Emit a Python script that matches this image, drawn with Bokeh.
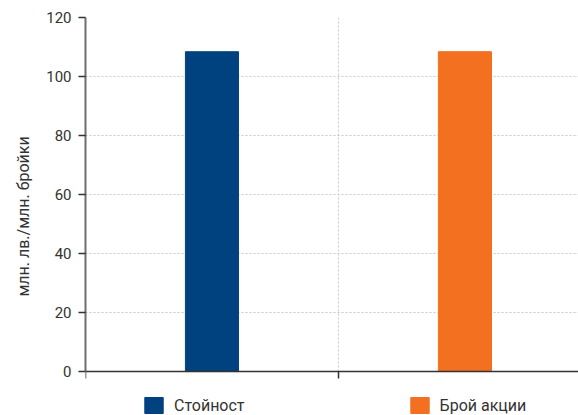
from bokeh.plotting import figure
from bokeh.models import Range1d, FixedTicker, Legend, LegendItem, ColumnDataSource
from bokeh.embed import file_html
from bokeh.resources import INLINE

categories = ["Стойност", "Брой акции"]
values = [108.4, 108.4]
colors = ["#00417f", "#f37021"]
x_pos = [0.5, 1.5]
y_ticks = [0, 20, 40, 60, 80, 100, 120]
x_ticks = [0, 1, 2]
x_grid = [1]
y_label = "млн. лв./млн. бройки"

FONT = "Roboto"

p = figure(frame_width=493, frame_height=398, output_backend="svg", toolbar_location=None,
           x_range=Range1d(0, 1.949), y_range=Range1d(-14.9, 120),
           min_border_left=85, min_border_right=0, min_border_top=17,
           min_border_bottom=0)
p.outline_line_color = None
p.background_fill_color = "white"

# vertical dotted grid line between the two categories (from y=0 to the top tick)
p.segment(x0=x_grid, y0=[y_ticks[0]] * len(x_grid), x1=x_grid, y1=[y_ticks[-1]] * len(x_grid),
          line_color="#c8c8c8", line_dash="2 2", line_width=1)

src = ColumnDataSource(dict(x=x_pos, top=values, color=colors, label=categories))
r = p.vbar(x="x", top="top", width=0.21, color="color", source=src)

# x axis (drawn at y = 0)
p.xaxis.fixed_location = 0
p.xaxis.ticker = FixedTicker(ticks=x_ticks)
p.xaxis.major_label_text_font_size = "1px"
p.xaxis.major_label_text_alpha = 0
p.xaxis.major_label_standoff = 0
p.xaxis.major_tick_out = 7
p.xaxis.major_tick_in = 0
p.xaxis.minor_tick_line_color = None
p.xaxis.axis_line_color = "#333333"
p.xaxis.axis_line_width = 1.5
p.xaxis.major_tick_line_color = "#333333"
p.xaxis.major_tick_line_width = 1.5

# y axis
p.yaxis.bounds = (y_ticks[0], y_ticks[-1])
p.yaxis.ticker = FixedTicker(ticks=y_ticks)
p.yaxis.major_tick_out = 7
p.yaxis.major_tick_in = 0
p.yaxis.minor_tick_line_color = None
p.yaxis.axis_line_color = "#6e6e6e"
p.yaxis.axis_line_width = 2
p.yaxis.major_tick_line_color = "#333333"
p.yaxis.major_tick_line_width = 1.5
p.yaxis.major_label_text_font = FONT
p.yaxis.major_label_text_font_size = "15px"
p.yaxis.major_label_text_color = "#333333"
p.yaxis.major_label_standoff = 7
p.yaxis.axis_label = y_label
p.yaxis.axis_label_text_font = FONT
p.yaxis.axis_label_text_font_size = "16px"
p.yaxis.axis_label_text_font_style = "normal"
p.yaxis.axis_label_text_color = "#333333"
p.yaxis.axis_label_standoff = 10

# grids
p.ygrid.ticker = FixedTicker(ticks=y_ticks[1:])
p.ygrid.grid_line_color = "#c8c8c8"
p.ygrid.grid_line_dash = "2 2"
p.xgrid.visible = False

legend = Legend(items=[LegendItem(label=categories[i], renderers=[r], index=i) for i in range(2)],
                orientation="horizontal", location=(57, 0),
                spacing=163, glyph_width=23, glyph_height=20,
                label_standoff=9, padding=0, margin=0, border_line_color=None,
                background_fill_alpha=0, label_text_font=FONT,
                label_text_font_size="16px", label_text_color="#333333")
p.add_layout(legend, "center")

open("out.html", "w").write(file_html(p, INLINE))
